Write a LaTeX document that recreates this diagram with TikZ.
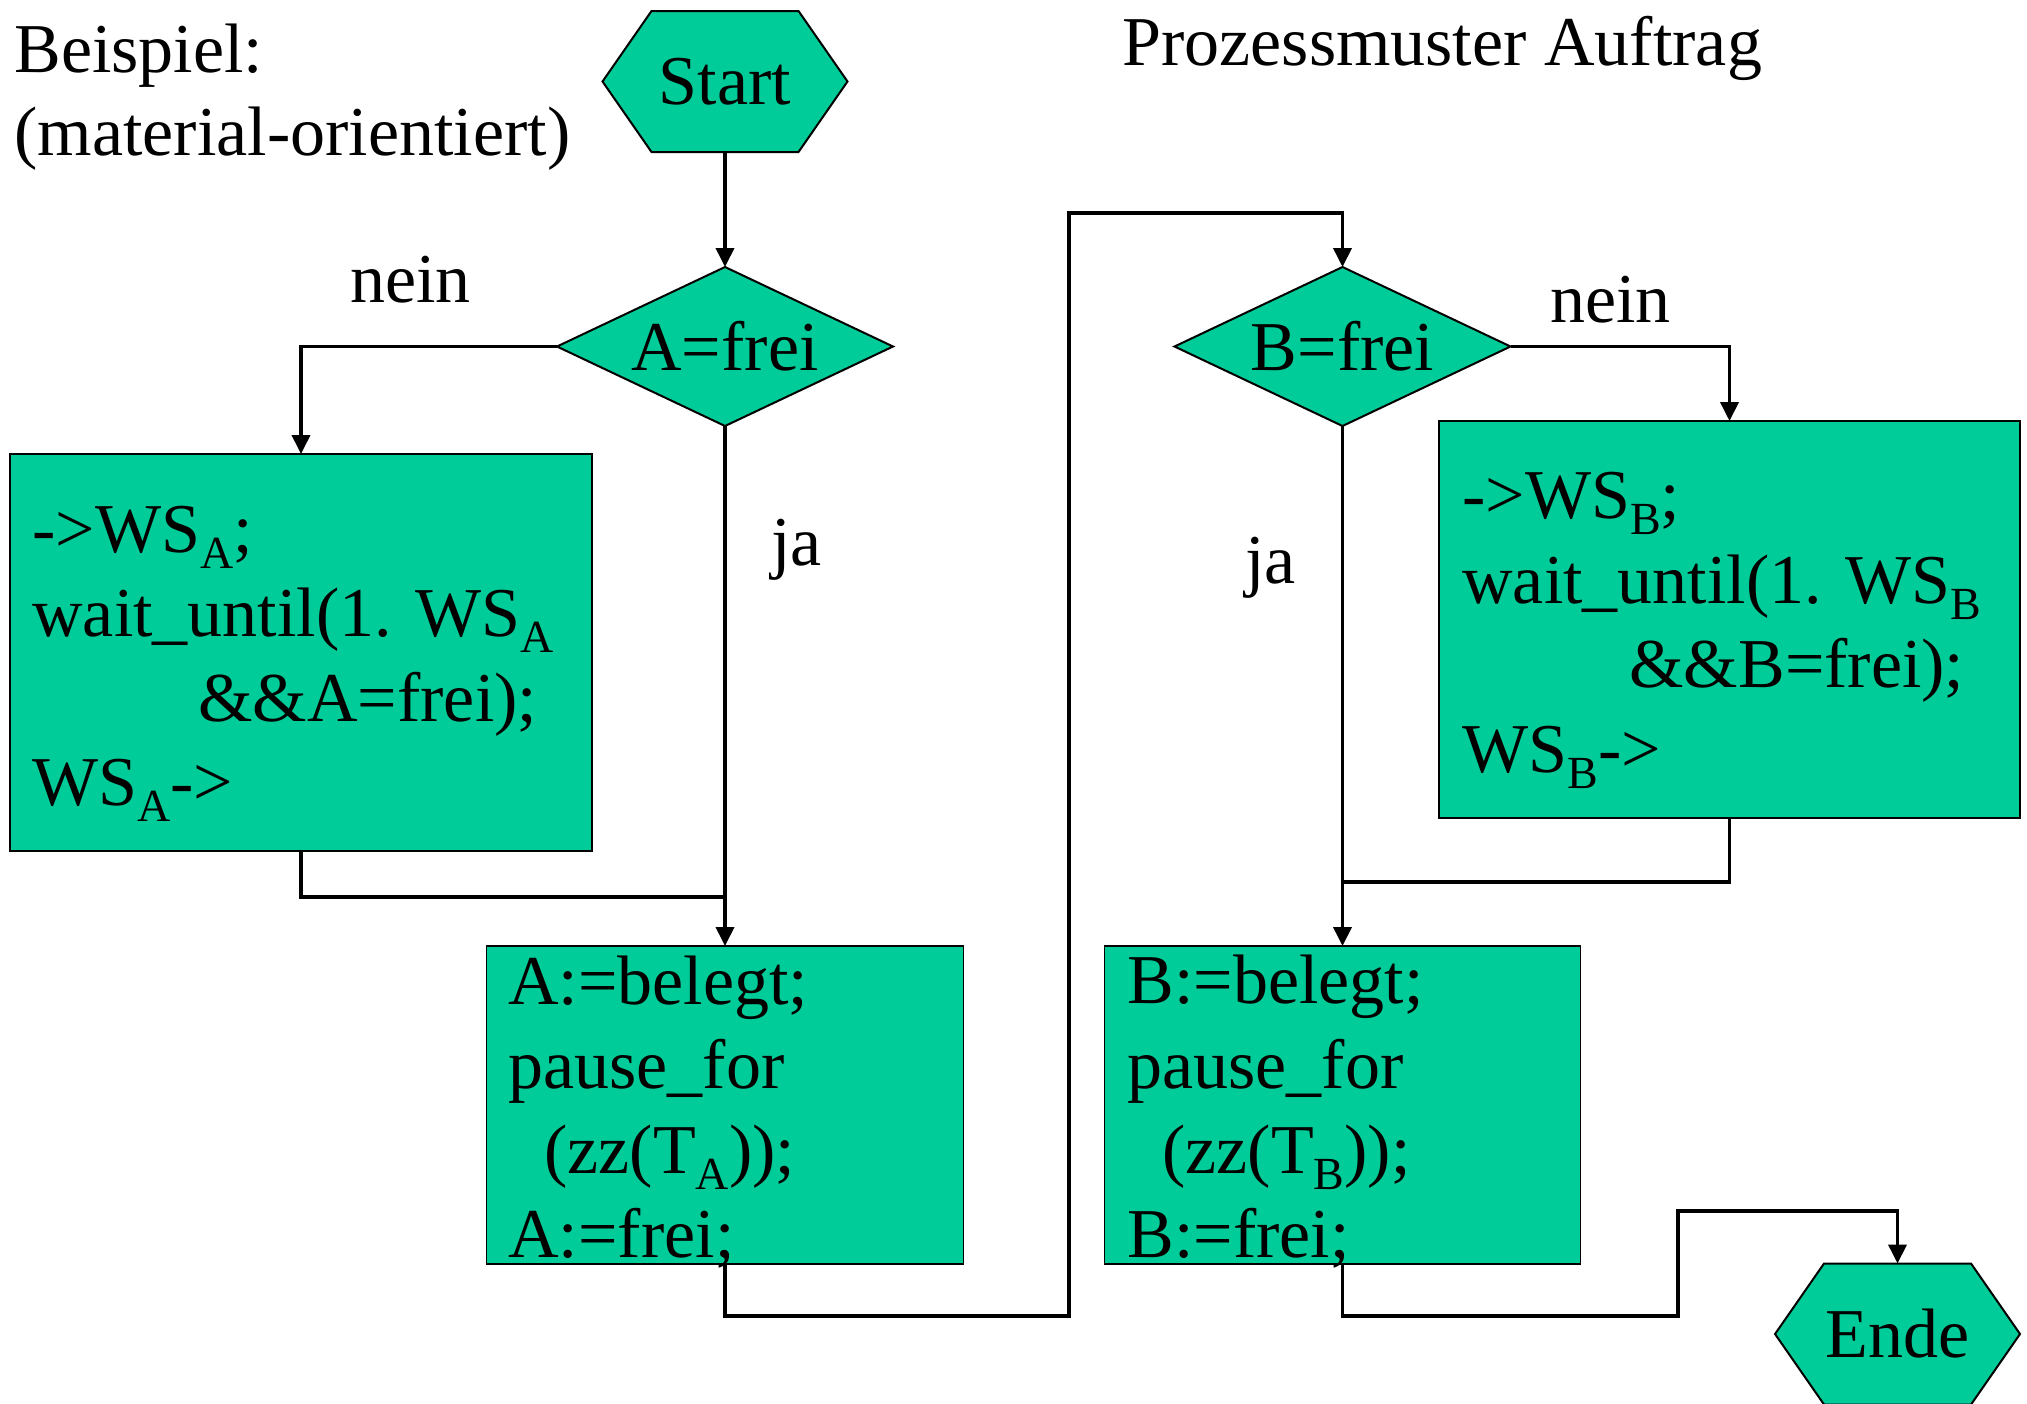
\documentclass[tikz,border=0pt]{standalone}
\usepackage{fontspec}
\setmainfont{Liberation Serif}
\usetikzlibrary{shapes.geometric,arrows.meta,calc}
\definecolor{boxfill}{RGB}{0,204,153}
\newcommand\lowsub[1]{\raisebox{-8.3pt}{\fontsize{23}{23}\selectfont #1}}
\newcommand\hexpath[1]{\fill[boxfill,draw=black,line width=1pt] (#1.west) -- ([xshift=24.5pt]#1.north west) -- ([xshift=-24.5pt]#1.north east) -- (#1.east) -- ([xshift=-24.5pt]#1.south east) -- ([xshift=24.5pt]#1.south west) -- cycle;}
\pgfdeclarelayer{bg}
\pgfsetlayers{bg,main}
\begin{document}
\begin{tikzpicture}[x=0.5pt,y=-0.5pt,
  txt/.style={inner sep=0pt, anchor=base west, font=\fontsize{35}{42}\selectfont},
  box/.style={draw=black, line width=0.9pt, fill=boxfill, anchor=north west, inner sep=0pt, outer sep=0pt},
  dec/.style={diamond, aspect=2.11, draw=black, line width=1pt, fill=boxfill, inner sep=0pt, outer sep=0pt,
    minimum width=168pt, minimum height=79.5pt, font=\fontsize{35}{42}\selectfont},
  term/.style={inner sep=0pt, outer sep=0pt, minimum width=122.5pt, minimum height=70.5pt, font=\fontsize{35}{42}\selectfont},
  conn/.style={line width=1.9pt},
  arr/.style={conn, -{Triangle[length=9.5pt,width=9pt]}},
]
\useasboundingbox (0,0) rectangle (2027,1403);

% titles
\node[txt] (t1) at (14,72) {Beispiel:};
\node[txt] (t2) at (14,155) {(material-orientiert)};
\node[txt] (t3) at (1122,65) {Prozessmuster Auftrag};

% terminals
\node[term, text depth=-3pt] (start) at (725,81.5) {Start};
\node[term] (ende) at (1897.5,1334) {Ende};
\begin{pgfonlayer}{bg}
\hexpath{start}
\hexpath{ende}
\end{pgfonlayer}

% decisions
\node[dec] (dA) at (725,346.5) {A=frei};
\node[dec] (dB) at (1342.5,346.5) {B=frei};

% boxes
\node[box, minimum width=291pt, minimum height=198.5pt] (boxA) at (10,454) {};
\node[box, minimum width=290.5pt, minimum height=198.5pt] (boxB) at (1439,421) {};
\node[box, minimum width=238.5pt, minimum height=159pt] (boxA2) at (486.5,946) {};
\node[box, minimum width=238pt, minimum height=159pt] (boxB2) at (1104.5,946) {};

% labels
\node[txt] (neinA) at (350,302) {nein};
\node[txt] (jaA) at (771,565) {ja};
\node[txt] (neinB) at (1550,322) {nein};
\node[txt] (jaB) at (1245,583) {ja};

% coordinates for joins and bends
\coordinate (mA) at (725,897);
\coordinate (mB) at (1342.5,882);
\coordinate (c1) at (1069,1316);
\coordinate (c2) at (1069,213);
\coordinate (c3) at (1678,1316);
\coordinate (c4) at (1678,1211);

% connectors
\draw[arr] (start.south) -- (start.south |- dA.north);
\draw[arr] (dA.west) -| (boxA.north);
\draw[arr] (dA.south) -- (dA.south |- boxA2.north);
\draw[conn] (boxA.south) |- (mA);
\draw[arr] (boxA2.south) |- (c1) -- (c2) -| (dB.north);
\draw[arr] (dB.east) -| (boxB.north);
\draw[arr] (dB.south) -- (dB.south |- boxB2.north);
\draw[conn] (boxB.south) |- (mB);
\draw[arr] (boxB2.south) |- (c3) -- (c4) -| (ende.north);

% box A text
\node[txt] (a1) at (32,552) {->WS\lowsub{A};};
\node[txt] (a2) at (32,636) {wait\_until(1. WS\lowsub{A}};
\node[txt] (a3) at (198,721) {\&\&A=frei);};
\node[txt] (a4) at (32,805) {WS\lowsub{A}->};

% box B text
\node[txt] (b1) at (1462,518) {->WS\lowsub{B};};
\node[txt] (b2) at (1462,603) {wait\_until(1. WS\lowsub{B}};
\node[txt] (b3) at (1629,687) {\&\&B=frei);};
\node[txt] (b4) at (1462,772) {WS\lowsub{B}->};

% box A2 text
\node[txt] (p1) at (508,1004) {A:=belegt;};
\node[txt] (p2) at (508,1088) {pause\_for};
\node[txt] (p3) at (544,1173) {(zz(T\lowsub{A}));};
\node[txt] (p4) at (508,1257) {A:=frei;};

% box B2 text
\node[txt] (q1) at (1127,1003) {B:=belegt;};
\node[txt] (q2) at (1127,1088) {pause\_for};
\node[txt] (q3) at (1162,1173) {(zz(T\lowsub{B}));};
\node[txt] (q4) at (1127,1257) {B:=frei;};
\end{tikzpicture}
\end{document}
